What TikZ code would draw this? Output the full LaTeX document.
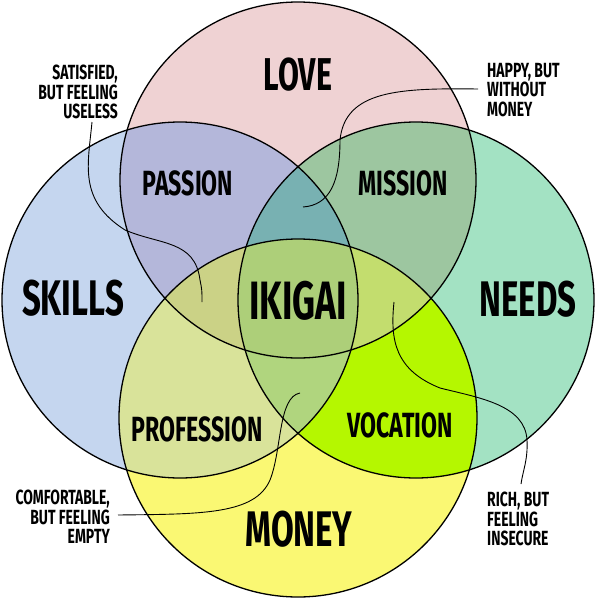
\documentclass[tikz,border=0pt]{standalone}
\usepackage{fontspec}
\setmainfont{Fira Sans}
\newfontfamily\hand[FakeStretch=0.66]{Fira Sans}
\newfontfamily\handn[FakeStretch=0.68]{Fira Sans}
\definecolor{cL}{HTML}{EFD2D3}
\definecolor{cS}{HTML}{C5D6EF}
\definecolor{cN}{HTML}{A3E2C3}
\definecolor{cM}{HTML}{FAF873}
\definecolor{cLS}{HTML}{B4B7DA}
\definecolor{cLN}{HTML}{9DC6A0}
\definecolor{cSM}{HTML}{D9E39A}
\definecolor{cNM}{HTML}{B5F700}
\definecolor{cLSN}{HTML}{78B1B2}
\definecolor{cLSM}{HTML}{CBD286}
\definecolor{cLNM}{HTML}{C3DD6E}
\definecolor{cSNM}{HTML}{B0D57E}
\definecolor{cALL}{HTML}{ADCF79}
\tikzset{
  big/.style={inner sep=0pt, font=\hand\bfseries\fontsize{50}{50}\selectfont},
  mid/.style={inner sep=0pt, font=\hand\bfseries\fontsize{35}{35}\selectfont},
  note/.style={inner sep=0pt, font=\handn\bfseries\fontsize{20.5}{19.5}\selectfont},
  ring/.style={draw=black, line width=1.3pt},
  leader/.style={draw=black, line width=0.9pt}
}
\begin{document}
\begin{tikzpicture}[x=1pt,y=-1pt]
\useasboundingbox (0,0) rectangle (598,600);
% base circles
\fill[cL] (298,180) circle[radius=178pt];
\fill[cS] (180,300) circle[radius=178pt];
\fill[cN] (416,300) circle[radius=178pt];
\fill[cM] (298,418) circle[radius=179pt];
% pairs
\begin{scope}\clip (298,180) circle[radius=178pt]; \fill[cLS] (180,300) circle[radius=178pt]; \end{scope}
\begin{scope}\clip (298,180) circle[radius=178pt]; \fill[cLN] (416,300) circle[radius=178pt]; \end{scope}
\begin{scope}\clip (180,300) circle[radius=178pt]; \fill[cSM] (298,418) circle[radius=179pt]; \end{scope}
\begin{scope}\clip (416,300) circle[radius=178pt]; \fill[cNM] (298,418) circle[radius=179pt]; \end{scope}
% triples
\begin{scope}\clip (298,180) circle[radius=178pt]; \clip (180,300) circle[radius=178pt]; \fill[cLSN] (416,300) circle[radius=178pt]; \end{scope}
\begin{scope}\clip (298,180) circle[radius=178pt]; \clip (180,300) circle[radius=178pt]; \fill[cLSM] (298,418) circle[radius=179pt]; \end{scope}
\begin{scope}\clip (298,180) circle[radius=178pt]; \clip (416,300) circle[radius=178pt]; \fill[cLNM] (298,418) circle[radius=179pt]; \end{scope}
\begin{scope}\clip (180,300) circle[radius=178pt]; \clip (416,300) circle[radius=178pt]; \fill[cSNM] (298,418) circle[radius=179pt]; \end{scope}
% all four
\begin{scope}\clip (298,180) circle[radius=178pt]; \clip (180,300) circle[radius=178pt]; \clip (416,300) circle[radius=178pt]; \fill[cALL] (298,418) circle[radius=179pt]; \end{scope}
% outlines
\draw[ring] (298,180) circle[radius=178pt];
\draw[ring] (180,300) circle[radius=178pt];
\draw[ring] (416,300) circle[radius=178pt];
\draw[ring] (298,418) circle[radius=179pt];
% labels
\node[big, font=\hand\bfseries\fontsize{46}{46}\selectfont] (love) at (298,75) {LOVE};
\node[mid] (passion) at (188,183) {PASSION};
\node[mid] (mission) at (403,183) {MISSION};
\node[big] (skills) at (73,298) {SKILLS};
\node[big, font=\hand\bfseries\fontsize{54}{54}\selectfont] (ikigai) at (298,301) {IKIGAI};
\node[big] (needs) at (528,299) {NEEDS};
\node[mid] (profession) at (197,429) {PROFESSION};
\node[mid] (vocation) at (400,425) {VOCATION};
\node[big] (money) at (299,529) {MONEY};
% notes
\node[note, align=right, anchor=north east] (sat) at (118,65) {SATISFIED,\\BUT FEELING\\USELESS};
\node[note, align=left, anchor=north west] (happy) at (487,63) {HAPPY, BUT\\WITHOUT\\MONEY};
\node[note, align=right, anchor=north east] (comf) at (110,490) {COMFORTABLE,\\BUT FEELING\\EMPTY};
\node[note, align=left, anchor=north west] (rich) at (487,492) {RICH, BUT\\FEELING\\INSECURE};
% leader ends
\coordinate (s1) at (92,122);
\coordinate (e1) at (202,302);
\coordinate (s2) at (478,89);
\coordinate (e2) at (303,207);
\coordinate (s3) at (118,515);
\coordinate (e3) at (300,393);
\coordinate (s4) at (521,484);
\coordinate (e4) at (394,302);
\draw[leader] (s1) .. controls (88,165) and (78,200) .. (125,230) .. controls (160,245) and (195,240) .. (200,280) .. controls (202,290) .. (e1);
\draw[leader] (s2) .. controls (400,88) and (345,90) .. (340,140) .. controls (340,182) and (330,205) .. (e2);
\draw[leader] (s3) .. controls (200,514) and (255,515) .. (270,480) .. controls (282,450) and (278,397) .. (e3);
\draw[leader] (s4) .. controls (523,470) and (528,460) .. (527,440) .. controls (525,405) and (480,398) .. (440,388) .. controls (395,370) and (390,340) .. (e4);
\end{tikzpicture}
\end{document}
